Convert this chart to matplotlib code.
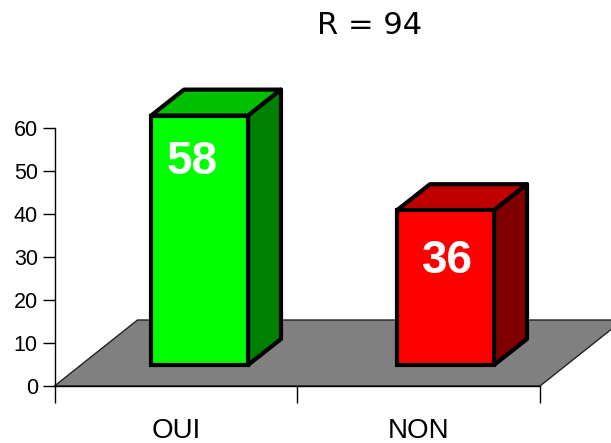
import numpy as np
import matplotlib
matplotlib.use('Agg')
import matplotlib.pyplot as plt
from matplotlib.patches import Polygon

categories = ['OUI', 'NON']
values = [58, 36]
y_ticks = [0, 10, 20, 30, 40, 50, 60]
title = 'R = 94'

front_colors = ['#00ff00', '#ff0000']
top_colors = ['#00c000', '#c00000']
side_colors = ['#008000', '#800000']

W, H = 611, 443
# axes box in pixels
left, right, top, bottom = 54.5, 540, 128, 386

# everything below is in data units: 1 category wide, 60 high
px_x = (right - left) / 2
px_y = (bottom - top) / 60
floor_dx, floor_dy = 83 / px_x, 66 / px_y
bar_dx, bar_dy = 33 / px_x, 26 / px_y
bar_base = 21 / px_y
bar_width = 97 / px_x
bar_x = [(199.5 - left) / px_x, (445.5 - left) / px_x]
# label placement relative to the bar top
label_dx = [-0.03, 0.01]
label_dy = [10.7, 11.9]

plt.rcParams['font.family'] = ['Liberation Sans', 'DejaVu Sans']

fig = plt.figure(figsize=(W / 100, H / 100), dpi=100)
ax = fig.add_axes([left / W, 1 - bottom / H, (right - left) / W, (bottom - top) / H])
ax.set_xlim(0, 2)
ax.set_ylim(0, 60)

# floor
floor = Polygon([(0, 0), (2, 0), (2 + floor_dx, floor_dy), (floor_dx, floor_dy)],
                facecolor='#808080', edgecolor='#222222', linewidth=1, clip_on=False, zorder=1)
ax.add_patch(floor)

# bars, with the 3d faces added by hand
for i, v in enumerate(values):
    x0 = bar_x[i] - bar_width / 2
    x1 = bar_x[i] + bar_width / 2
    y0 = bar_base
    y1 = bar_base + v
    ax.add_patch(Polygon([(x0, y1), (x1, y1), (x1 + bar_dx, y1 + bar_dy), (x0 + bar_dx, y1 + bar_dy)],
                         facecolor=top_colors[i], edgecolor='black', linewidth=3,
                         joinstyle='round', clip_on=False, zorder=2))
    ax.add_patch(Polygon([(x1, y0), (x1 + bar_dx, y0 + bar_dy), (x1 + bar_dx, y1 + bar_dy), (x1, y1)],
                         facecolor=side_colors[i], edgecolor='black', linewidth=3,
                         joinstyle='round', clip_on=False, zorder=2))
    ax.bar(bar_x[i], v, bottom=y0, width=bar_width, color=front_colors[i], edgecolor='black',
           linewidth=3, clip_on=False, zorder=3)
    ax.text(bar_x[i] + label_dx[i], y1 - label_dy[i], str(v), color='white', fontsize=33,
            fontweight='bold', ha='center', va='center', zorder=4)

for s in ['top', 'right']:
    ax.spines[s].set_visible(False)
for s in ['left', 'bottom']:
    ax.spines[s].set_linewidth(1)
    ax.spines[s].set_zorder(5)

ax.set_yticks(y_ticks)
ax.tick_params(axis='y', length=9, width=1, labelsize=15.5, pad=3)
ax.set_xticks([0, 1, 2])
ax.set_xticklabels([])
ax.set_xticks([0.5, 1.5], minor=True)
ax.set_xticklabels(categories, minor=True, fontsize=20)
ax.tick_params(axis='x', which='major', length=12, width=1)
ax.tick_params(axis='x', which='minor', length=0, pad=23)

fig.text(370 / W, 1 - 25 / H, title, fontsize=22, family='DejaVu Sans', ha='center', va='center')

fig.savefig('out.png', dpi=100)
